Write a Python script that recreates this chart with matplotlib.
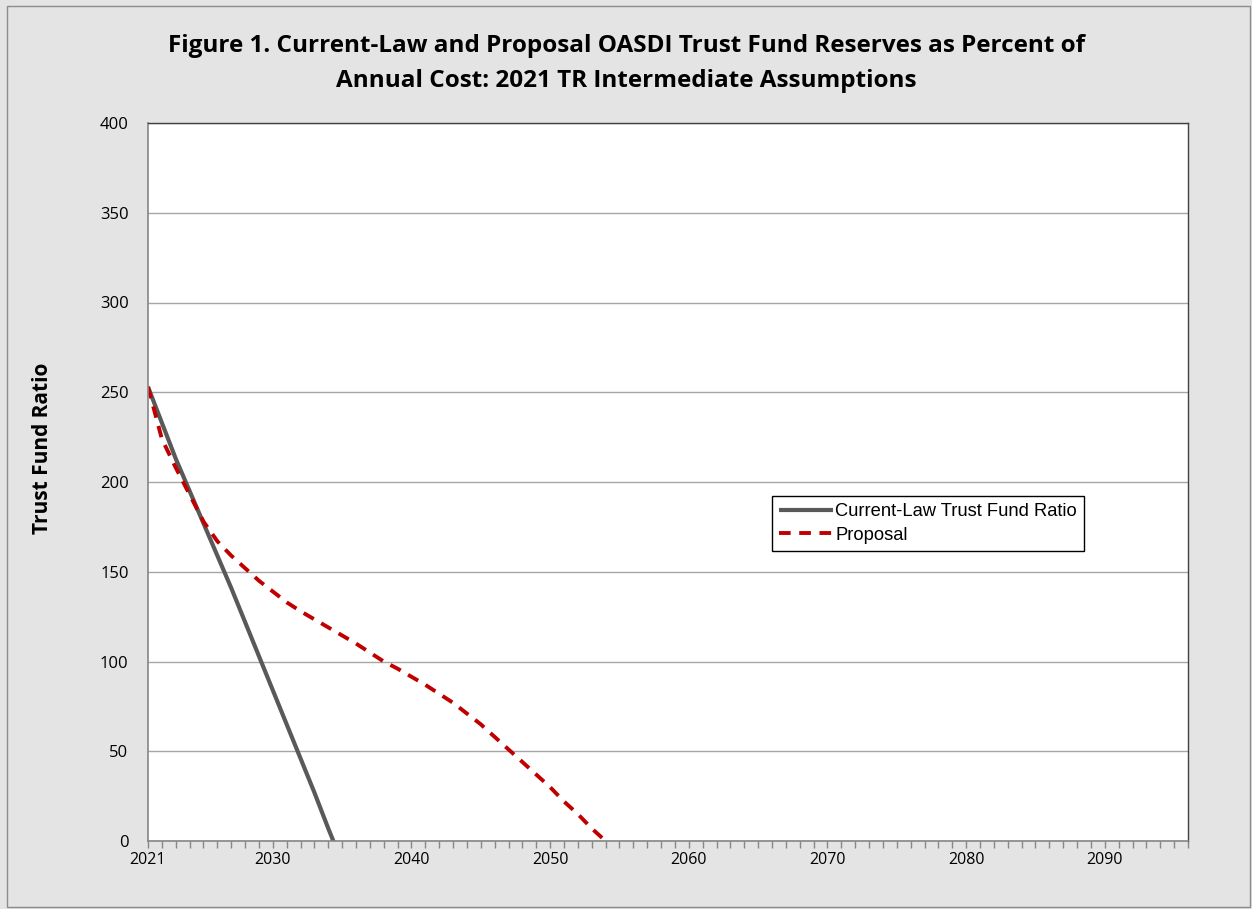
import numpy as np
import matplotlib
matplotlib.use('Agg')
from matplotlib import pyplot as plt
from matplotlib.patches import Rectangle

# data
years_current = list(range(2021, 2036))
current_law = [253, 233, 213, 195, 177, 159, 141, 122, 103, 84, 65, 46, 27, 7, -12]

years_proposal = list(range(2021, 2056))
proposal = [253, 224, 208, 193, 178, 167, 159, 152, 145, 139,
            133, 128, 123.5, 119, 114.5, 110, 105, 100, 96, 91.5,
            87, 82, 77, 71, 65, 58, 51, 44, 37, 30,
            22, 15, 7, 0, -8]

x_labels = [2021, 2030, 2040, 2050, 2060, 2070, 2080, 2090]
y_ticks = [0, 50, 100, 150, 200, 250, 300, 350, 400]

bg = '#E4E4E4'
fig = plt.figure(figsize=(12.52, 9.09), dpi=100)
fig.patch.set_facecolor(bg)
fig.patches.append(Rectangle((7/1252, 2/909), 1243/1252, 901/909, transform=fig.transFigure,
                             fill=False, edgecolor='#8C8C8C', lw=1.0))

ax = fig.add_axes([148/1252, 68/909, 1040/1252, 718/909])
ax.set_facecolor('white')

ax.plot(years_current, current_law, color='#595959', lw=3.0, label='Current-Law Trust Fund Ratio',
        solid_capstyle='butt')
ax.plot(years_proposal, proposal, color='#C00000', lw=2.8, dashes=(3.0, 2.2),
        label='Proposal')

ax.set_xlim(2021, 2096)
ax.set_ylim(0, 400)
ax.set_yticks(y_ticks)
ax.set_yticklabels([str(v) for v in y_ticks], fontsize=12, family='Open Sans')
ax.set_xticks(x_labels)
ax.set_xticklabels([str(v) for v in x_labels], fontsize=11.5, family='Open Sans')
ax.set_xticks(range(2021, 2097), minor=True)
ax.tick_params(axis='x', which='both', direction='out', length=5, color='#868686', width=1)
ax.tick_params(axis='x', which='major', pad=3)
ax.tick_params(axis='y', which='both', length=0, pad=14)
ax.grid(axis='y', color='#A6A6A6', lw=1.0)
ax.set_axisbelow(True)

for s in ['left', 'bottom']:
    ax.spines[s].set_color('#868686')
    ax.spines[s].set_linewidth(1.2)
for s in ['top', 'right']:
    ax.spines[s].set_color('#404040')
    ax.spines[s].set_linewidth(1.0)

leg = ax.legend(loc='upper left', bbox_to_anchor=((772-148)/1040, (841-496)/718),
                prop={'family': 'Liberation Sans', 'size': 13.2}, frameon=True, fancybox=False,
                edgecolor='black', framealpha=1, handlelength=2.9, handletextpad=0.15,
                borderpad=0.4, labelspacing=0.35, borderaxespad=0)
leg.get_frame().set_linewidth(1.0)

fig.text(0.5, 1 - 46/909, 'Figure 1. Current-Law and Proposal OASDI Trust Fund Reserves as Percent of',
         ha='center', va='center', fontsize=17.5, fontweight='bold', family='Open Sans')
fig.text(0.5, 1 - 81/909, 'Annual Cost: 2021 TR Intermediate Assumptions',
         ha='center', va='center', fontsize=17.5, fontweight='bold', family='Open Sans')
fig.text(43/1252, 1 - 448/909, 'Trust Fund Ratio', rotation=90, ha='center', va='center',
         fontsize=15, fontweight='bold', family='Open Sans')

fig.savefig('out.png', dpi=100, facecolor=bg)
